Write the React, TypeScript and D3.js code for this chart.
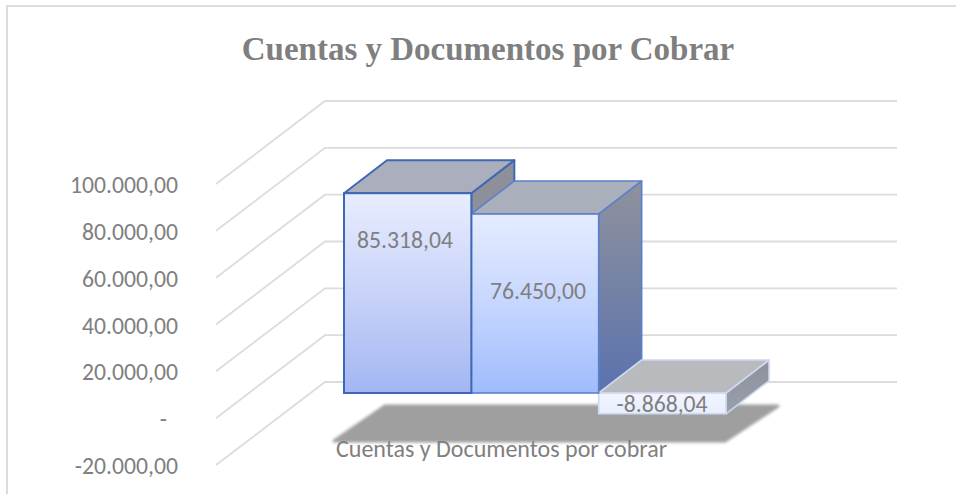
import React from "react";
import * as d3 from "d3";

const title = "Cuentas y Documentos por Cobrar";
const categoryLabel = "Cuentas y Documentos por cobrar";
const tickValues = [100000, 80000, 60000, 40000, 20000, 0, -20000];
const tickLabels = ["100.000,00", "80.000,00", "60.000,00", "40.000,00", "20.000,00", "-", "-20.000,00"];
const seriesValues = [85318.04, 76450.0, -8868.04];
const seriesLabels = ["85.318,04", "76.450,00", "-8.868,04"];

const gridColor = "#dcdcdc";
const textColor = "#7f7f7f";
const font = "Carlito, Calibri, Lato, 'Noto Sans', sans-serif";

const W = 956, H = 494;
// back wall
const yBack = d3.scaleLinear().domain([100000, -20000]).range([101, 382]);
const wallX0 = 216, wallX1 = 325, gridEnd = 897, wallDy = 83;
// bar plane: same scale, shifted so value 0 lands at the bars' base
const zeroY = 393;
const yBar = (v: number) => yBack(v) - yBack(0) + zeroY;
const xBar = d3.scaleLinear().domain([0, 3]).range([344, 726]);
const depthX = 43, depthY = -33;

const styles = [
  { stroke: "#3f68b4", width: 2, front: "url(#f0)", top: "#abafbd", side: "url(#s0)" },
  { stroke: "#5a80cc", width: 1.6, front: "url(#f1)", top: "#a9afbb", side: "url(#s1)" },
  { stroke: "#cdd7ee", width: 1.6, front: "url(#f2)", top: "#b9babe", side: "url(#s2)" },
];
const labelPos = [
  { x: 405, y: 248 },
  { x: 538, y: 299 },
  { x: 662, y: 412 },
];

const pts = (p: number[][]) => p.map((q) => q.join(",")).join(" ");

export default function App() {
  const bars = seriesValues.map((v, i) => {
    const x0 = xBar(i), x1 = xBar(i + 1);
    const yt = yBar(Math.max(v, 0)), yb = yBar(Math.min(v, 0));
    return { i, x0, x1, yt, yb, s: styles[i] };
  });
  return (
    <svg width={W} height={H} style={{ position: "absolute", left: 0, top: 0, background: "#fff" }}>
      <defs>
        <linearGradient id="f0" x1="0" y1="0" x2="0" y2="1">
          <stop offset="0" stopColor="#e8edff" />
          <stop offset="0.5" stopColor="#c8d3f8" />
          <stop offset="1" stopColor="#a3b6f2" />
        </linearGradient>
        <linearGradient id="f1" x1="0" y1="0" x2="0" y2="1">
          <stop offset="0" stopColor="#e5ecff" />
          <stop offset="0.5" stopColor="#c6d6fe" />
          <stop offset="1" stopColor="#a0bcfe" />
        </linearGradient>
        <linearGradient id="f2" x1="0" y1="0" x2="0" y2="1">
          <stop offset="0" stopColor="#f2f5ff" />
          <stop offset="1" stopColor="#e8eefe" />
        </linearGradient>
        <linearGradient id="s0" x1="0" y1="0" x2="0" y2="1">
          <stop offset="0" stopColor="#8d9099" />
          <stop offset="1" stopColor="#8d9099" />
        </linearGradient>
        <linearGradient id="s1" x1="0" y1="0" x2="0" y2="1">
          <stop offset="0" stopColor="#8f929c" />
          <stop offset="1" stopColor="#5b72ae" />
        </linearGradient>
        <linearGradient id="s2" x1="0" y1="0" x2="0" y2="1">
          <stop offset="0" stopColor="#8e919b" />
          <stop offset="1" stopColor="#9a9fae" />
        </linearGradient>
        <filter id="blur" x="-5%" y="-20%" width="110%" height="140%">
          <feGaussianBlur stdDeviation="1.5" />
        </filter>
      </defs>

      {/* chart frame */}
      <path d={`M7,${H} V6 H${W}`} fill="none" stroke={gridColor} strokeWidth={2} />

      <text x={488} y={60} textAnchor="middle" fontFamily="'Liberation Serif', serif" fontWeight="bold" fontSize={33} fill={textColor}>
        {title}
      </text>

      {/* gridlines: side wall + back wall */}
      {tickValues.map((t) => {
        const y = yBack(t);
        return (
          <polyline key={t} points={pts([[wallX0, y + wallDy], [wallX1, y], [gridEnd, y]])} fill="none" stroke={gridColor} strokeWidth={1.8} />
        );
      })}

      {/* axis labels */}
      {tickValues.map((t, i) => (
        <text key={t} x={tickLabels[i] === "-" ? 167 : 178} y={yBack(t) + wallDy + 9} textAnchor="end" fontFamily={font} fontSize={23.7} fill={textColor}>
          {tickLabels[i]}
        </text>
      ))}

      {/* floor shadow */}
      <polygon points={pts([[385, 406], [778, 406], [725, 441], [334, 441]])} fill="#9f9f9f" stroke="#9f9f9f" strokeWidth={3} strokeLinejoin="round" filter="url(#blur)" />

      {/* side and top faces */}
      {bars.map((b) => (
        <g key={b.i} stroke={b.s.stroke} strokeWidth={b.s.width} strokeLinejoin="round">
          <polygon points={pts([[b.x1, b.yt], [b.x1 + depthX, b.yt + depthY], [b.x1 + depthX, b.yb + depthY], [b.x1, b.yb]])} fill={b.s.side} />
          <polygon points={pts([[b.x0, b.yt], [b.x0 + depthX, b.yt + depthY], [b.x1 + depthX, b.yt + depthY], [b.x1, b.yt]])} fill={b.s.top} />
        </g>
      ))}
      {/* front faces */}
      {[...bars].reverse().map((b) => (
        <rect key={b.i} x={b.x0} y={b.yt} width={b.x1 - b.x0} height={b.yb - b.yt} fill={b.s.front} stroke={b.s.stroke} strokeWidth={b.s.width} />
      ))}

      {/* data labels */}
      {seriesLabels.map((l, i) => (
        <text key={l} x={labelPos[i].x} y={labelPos[i].y} textAnchor="middle" fontFamily={font} fontSize={23.7} fill={textColor}>
          {l}
        </text>
      ))}

      <text x={336} y={457} fontFamily={font} fontSize={24} fill={textColor}>
        {categoryLabel}
      </text>
    </svg>
  );
}
